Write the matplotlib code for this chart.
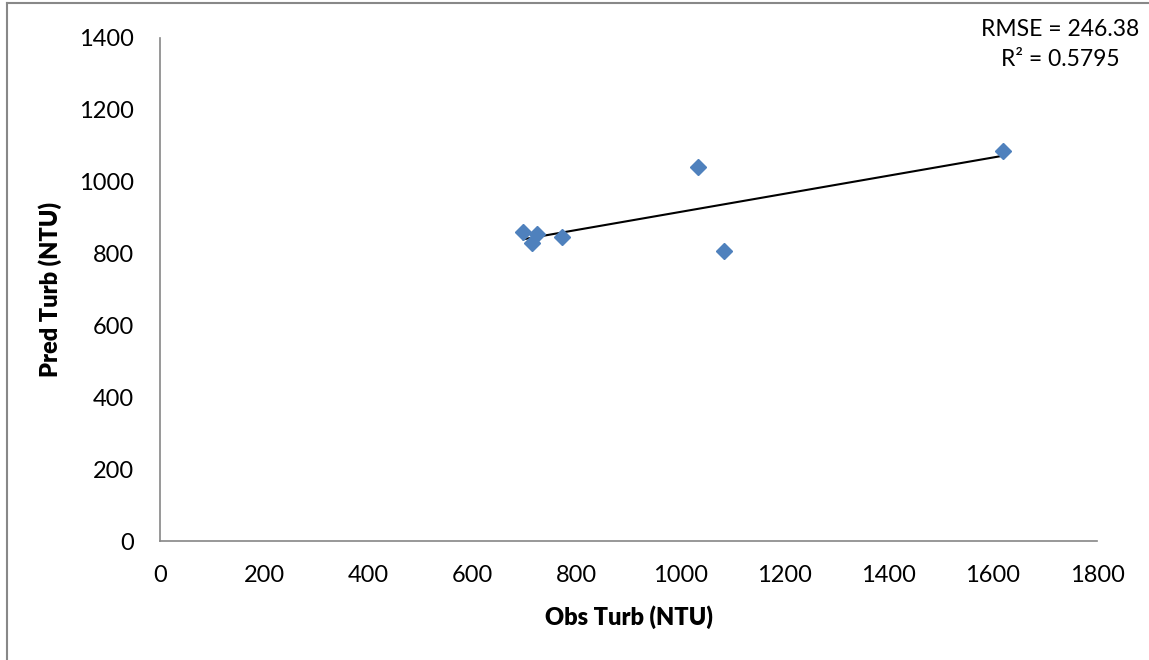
import matplotlib.pyplot as plt
import numpy as np
from matplotlib.lines import Line2D

plt.rcParams['font.family'] = ['Lato', 'DejaVu Sans']

obs = [698, 724, 714, 772, 1034, 1084, 1620]
pred = [861, 854, 830, 845, 1040, 807, 1086]
x_ticks = [0, 200, 400, 600, 800, 1000, 1200, 1400, 1600, 1800]
y_ticks = [0, 200, 400, 600, 800, 1000, 1200, 1400]

fig = plt.figure(figsize=(11.49, 6.6), dpi=100)
ax = fig.add_axes([160 / 1149, 1 - 541 / 660, 937 / 1149, 503 / 660])

ax.plot(obs, pred, linestyle=' ', marker='D', markersize=8.5, color='#4F81BD', zorder=3)

# linear trendline over the observed range
k, b = np.polyfit(obs, pred, 1)
xs = np.array([min(obs), max(obs)])
ax.plot(xs, k * xs + b, color='black', linewidth=1.5, zorder=2)

ax.set_xlim(0, 1800)
ax.set_ylim(0, 1400)
ax.set_xticks(x_ticks)
ax.set_yticks(y_ticks)
ax.tick_params(length=0, labelsize=17, pad=17)
ax.tick_params(axis='y', pad=19)
for s in ['top', 'right']:
    ax.spines[s].set_visible(False)
for s in ['left', 'bottom']:
    ax.spines[s].set_color('#868686')
    ax.spines[s].set_linewidth(1.2)

ax.set_xlabel('Obs Turb (NTU)', fontsize=17, fontweight='heavy', labelpad=14)
ax.set_ylabel('Pred Turb (NTU)', fontsize=17, fontweight='heavy', labelpad=12)

fig.text(1060 / 1149, 1 - 30 / 660, 'RMSE = 246.38', fontsize=16.5, ha='center', va='center')
fig.text(1060 / 1149, 1 - 60 / 660, 'R² = 0.5795', fontsize=16.5, ha='center', va='center')

# outer chart border (left and top visible)
fig.add_artist(Line2D([7 / 1149, 7 / 1149], [0, 1 - 3 / 660], color='#888888', linewidth=1.5))
fig.add_artist(Line2D([7 / 1149, 1], [1 - 3 / 660, 1 - 3 / 660], color='#888888', linewidth=1.5))

fig.savefig('out.png', dpi=100)
